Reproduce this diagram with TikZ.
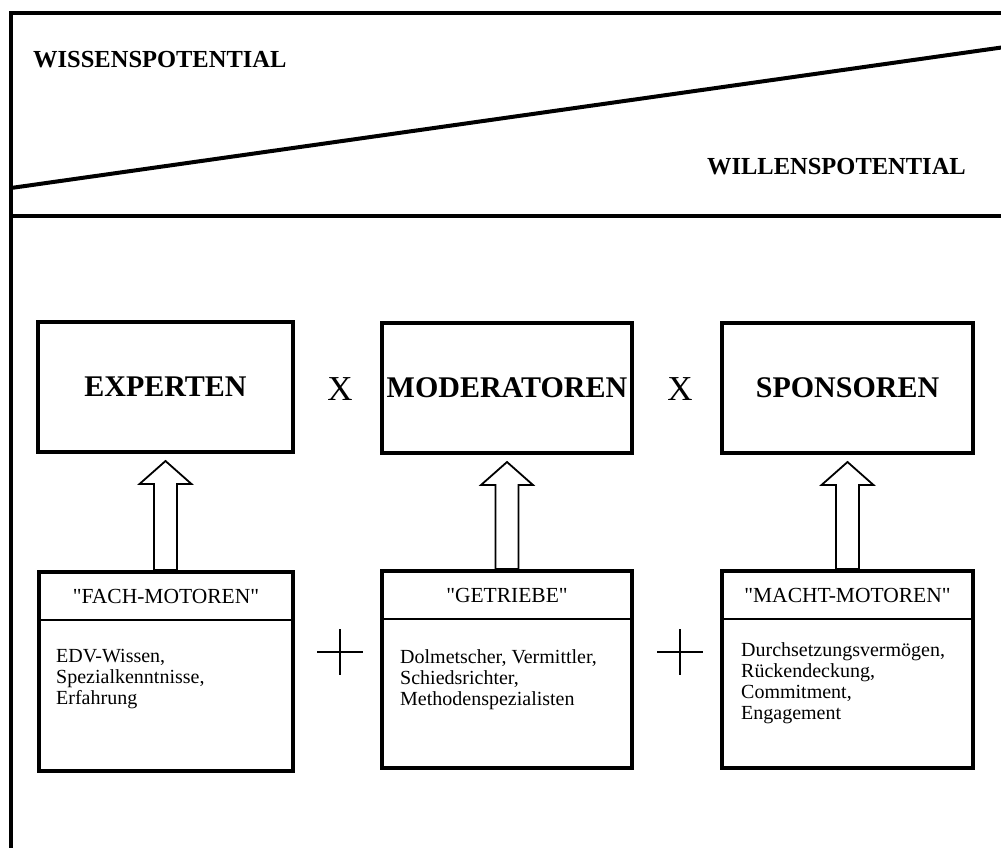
\documentclass[tikz,border=0pt]{standalone}
\usepackage{fontspec}
\setmainfont{Liberation Serif}
\newfontfamily\qfont{Liberation Serif}
\usetikzlibrary{calc}
\tikzset{
  frameline/.style={line width=4.5pt, line cap=rect},
  headbox/.style={draw, line width=4pt, minimum height=130pt, inner sep=0pt,
    font=\fontsize{30}{36}\selectfont\bfseries},
  lowbox/.style={draw, line width=4pt, inner sep=0pt},
  lowtitle/.style={inner sep=0pt, font=\qfont\fontsize{21.5}{26}\selectfont},
  lowtext/.style={inner sep=0pt, anchor=north west, align=left,
    font=\fontsize{20}{21}\selectfont},
  divline/.style={line width=2pt},
  hollowarrow/.style={draw, line width=1.8pt, fill=white, line join=miter},
  xsign/.style={inner sep=0pt, font=\fontsize{35}{40}\selectfont},
  plussign/.style={line width=2.2pt},
  potlabel/.style={inner sep=0pt, font=\fontsize{24.5}{28}\selectfont\bfseries}
}
\begin{document}
\begin{tikzpicture}[x=1pt,y=-1pt]
\useasboundingbox (0,0) rectangle (1001,847);
% frame
\draw[frameline] (1012,13) -- (11,13) -- (11,860);
\draw[frameline] (11,216) -- (1012,216);
\draw[line width=4pt] (11,188) -- (1012,46);
\node[potlabel, anchor=west] (wissen) at (33,60) {WISSENSPOTENTIAL};
\node[potlabel, anchor=east] (willen) at (966,167) {WILLENSPOTENTIAL};
% upper boxes
\node[headbox, minimum width=255pt] (exp) at (165.5,387) {EXPERTEN};
\node[headbox, minimum width=250pt] (mod) at (507,388) {MODERATOREN};
\node[headbox, minimum width=251pt] (spo) at (847.5,388) {SPONSOREN};
\node[xsign] (x1) at (340,389) {X};
\node[xsign] (x2) at (680,389) {X};
% lower boxes
\node[lowbox, minimum width=254pt, minimum height=199pt] (fach) at (166,671.5) {};
\node[lowbox, minimum width=250pt, minimum height=197pt] (getr) at (507,669.5) {};
\node[lowbox, minimum width=251pt, minimum height=197pt] (macht) at (847.5,669.5) {};
\foreach \b in {fach,getr,macht}{
  \draw[divline] ([yshift=-50pt]\b.north west) -- ([yshift=-50pt]\b.north east);
}
\node[lowtitle] (fachT) at ($(fach.north)+(0,26)$) {"FACH-MOTOREN"};
\node[lowtitle] (getrT) at ($(getr.north)+(0,26)$) {"GETRIEBE"};
\node[lowtitle] (machtT) at ($(macht.north)+(0,26)$) {"MACHT-MOTOREN"};
\node[lowtext] (fachB) at ($(fach.north west)+(19,79)$) {EDV-Wissen,\\Spezialkenntnisse,\\Erfahrung};
\node[lowtext] (getrB) at ($(getr.north west)+(20,80)$) {Dolmetscher, Vermittler,\\Schiedsrichter,\\Methodenspezialisten};
\node[lowtext] (machtB) at ($(macht.north west)+(21,73)$) {Durchsetzungsvermögen,\\Rückendeckung,\\Commitment,\\Engagement};
% plus signs
\coordinate (p1) at (340,652);
\coordinate (p2) at (680,652);
\foreach \p in {p1,p2}{
  \draw[plussign] ($(\p)+(-23,0)$) -- ($(\p)+(23,0)$);
  \draw[plussign] ($(\p)+(0,-23)$) -- ($(\p)+(0,23)$);
}
% hollow arrows
\foreach \lo/\up in {fach/exp, getr/mod, macht/spo}{
  \coordinate (t) at ($(\up.south)+(0,7)$);
  \coordinate (bl) at ($(t)+(-11.5,0)$);
  \coordinate (br) at ($(t)+(11.5,0)$);
  \draw[hollowarrow] (bl |- \lo.north) -- ($(t)+(-11.5,23)$) -- ($(t)+(-26,23)$)
    -- (t) -- ($(t)+(26,23)$) -- ($(t)+(11.5,23)$) -- (br |- \lo.north) -- cycle;
}
\end{tikzpicture}
\end{document}
